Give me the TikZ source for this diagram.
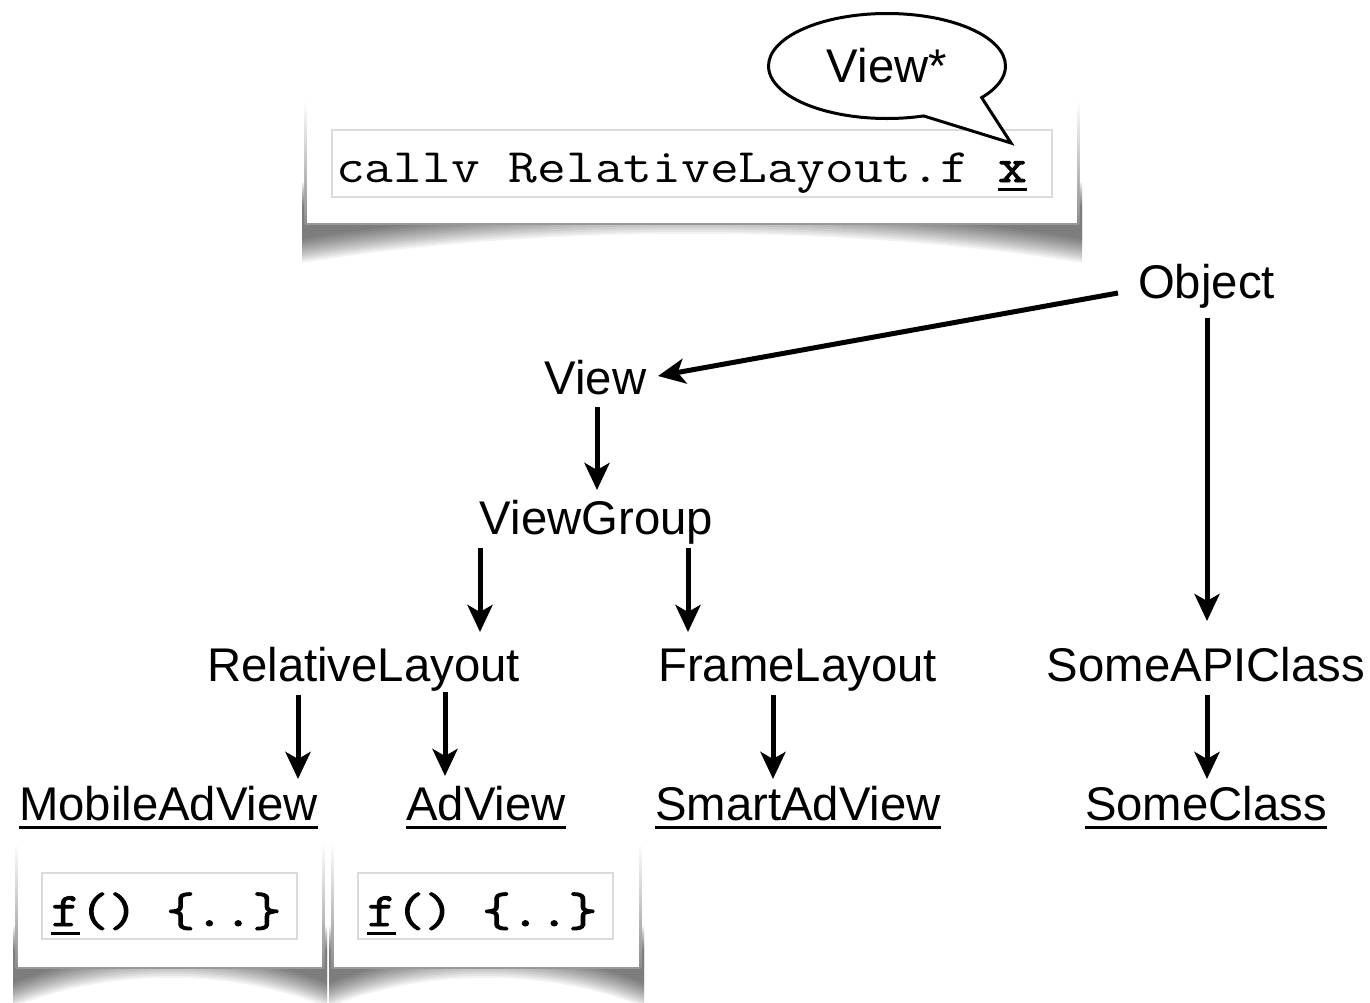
\documentclass[tikz,border=0pt]{standalone}
\usepackage{fontspec}
\setmainfont{Liberation Sans}
\newfontfamily\codefont[FakeStretch=1.164]{Latin Modern Mono}
\newfontfamily\codebold[FakeStretch=1.164,FakeBold=2]{Latin Modern Mono}
\usetikzlibrary{arrows.meta,shapes.callouts,shapes.geometric}

% underlined text with a thick rule
\newcommand\ulbox[1]{\leavevmode\setbox0=\hbox{#1}\rlap{\rule[-8.5pt]{\wd0}{2.8pt}}\box0}

% soft "lifted corners" shadow under a card: left, right, bottom, corner depth
% (a curved dark band, blurred by stacking vertically shifted copies)
\newcommand\liftshadow[4]{%
  \foreach \s in {-12,-10,...,12}{%
    \pgfmathsetmacro\xl{#1-4}%
    \pgfmathsetmacro\xr{#2+4}%
    \pgfmathsetmacro\ca{#1+0.3*(#2-#1)}%
    \pgfmathsetmacro\cb{#2-0.3*(#2-#1)}%
    \pgfmathsetmacro\ytop{#3+\s-30}%
    \pgfmathsetmacro\ycorner{#3+#4+\s}%
    \pgfmathsetmacro\yctrl{#3-12+\s}%
    \fill[black,opacity=0.05]
      (\xl,\ytop) -- (\xl,\ycorner)
      .. controls (\ca,\yctrl) and (\cb,\yctrl) .. (\xr,\ycorner)
      -- (\xr,\ytop) -- cycle;
  }}

% white card: left, right, top, bottom
\newcommand\paper[4]{%
  \liftshadow{#1}{#2}{#4}{27}
  \fill[white] (#1,#3) rectangle (#2,#4);
  \shade[top color=white,bottom color=black!45] (#1-1.5,#3) rectangle (#1+0.5,#4);
  \shade[top color=white,bottom color=black!45] (#2-0.5,#3) rectangle (#2+1.5,#4);
  \draw[black!40,line width=1.5pt] (#1,#4) -- (#2,#4);
}

\begin{document}
\begin{tikzpicture}[x=1pt,y=-1pt,
  lbl/.style={font=\fontsize{47.3pt}{56pt}\selectfont, inner sep=0pt, anchor=base},
  code/.style={font=\fontsize{48pt}{56pt}\codefont, inner sep=0pt, anchor=base west},
  arr/.style={line width=5pt, -{Stealth[length=27pt,width=25pt,inset=7pt]}},
  codeframe/.style={draw=black!14, line width=1.2pt, fill=white}]

\fill[white] (0,0) rectangle (1370,1002);
\useasboundingbox (0,0) rectangle (1370,1002);

% instruction card
\paper{306}{1078}{100}{224}
\draw[codeframe] (332,130) rectangle (1052,197);
\node[code] (call) at (336,182) {callv RelativeLayout.f \ulbox{\codebold x}};

% speech bubble on the receiver
\node[ellipse callout, draw, line width=3pt, fill=white, inner sep=0pt,
      minimum width=237pt, minimum height=105pt,
      callout absolute pointer={(1011,143)}, callout pointer arc=35,
      font=\fontsize{47.3pt}{56pt}\selectfont] (bubble) at (887,66) {View*};

% class hierarchy
\node[lbl] (obj)  at (1206.5,298) {Object};
\node[lbl] (view) at (595.5,394) {View};
\node[lbl] (vg)   at (596.5,534) {ViewGroup};
\node[lbl] (rl)   at (363.5,681) {RelativeLayout};
\node[lbl] (fl)   at (797.5,681) {FrameLayout};
\node[lbl] (sapi) at (1206,681) {SomeAPIClass};
\node[lbl] (mav)  at (168.5,820) {\ulbox{MobileAdView}};
\node[lbl] (adv)  at (486,820) {\ulbox{AdView}};
\node[lbl] (sav)  at (798,820) {\ulbox{SmartAdView}};
\node[lbl] (sc)   at (1206,820) {\ulbox{SomeClass}};

\draw[arr] ([shift={(-88.5,-5)}]obj.base) -- ([shift={(62.5,-18)}]view.base);
\draw[arr] ([shift={(1.5,13)}]view.base) -- ([shift={(0.5,-44)}]vg.base);
\draw[arr] ([shift={(-116.5,14)}]vg.base) -- ([shift={(116.5,-49)}]rl.base);
\draw[arr] ([shift={(91.5,14)}]vg.base) -- ([shift={(-109.5,-49)}]fl.base);
\draw[arr] ([shift={(0.5,20)}]obj.base) -- ([shift={(1,-60)}]sapi.base);
\draw[arr] ([shift={(-65.5,14)}]rl.base) -- ([shift={(129.5,-41)}]mav.base);
\draw[arr] ([shift={(81.5,11)}]rl.base) -- ([shift={(-41,-44)}]adv.base);
\draw[arr] ([shift={(-24.5,14)}]fl.base) -- ([shift={(-25,-41)}]sav.base);
\draw[arr] ([shift={(1,14)}]sapi.base) -- ([shift={(1,-41)}]sc.base);

% method cards
\paper{17}{323}{843}{968}
\draw[codeframe] (42,873) rectangle (297,939);
\node[code] (fa) at (51,926) {\codebold\ulbox{f}() \{..\}};

\paper{333}{640}{843}{968}
\draw[codeframe] (358,873) rectangle (613,939);
\node[code] (fb) at (367,926) {\codebold\ulbox{f}() \{..\}};

\end{tikzpicture}
\end{document}
